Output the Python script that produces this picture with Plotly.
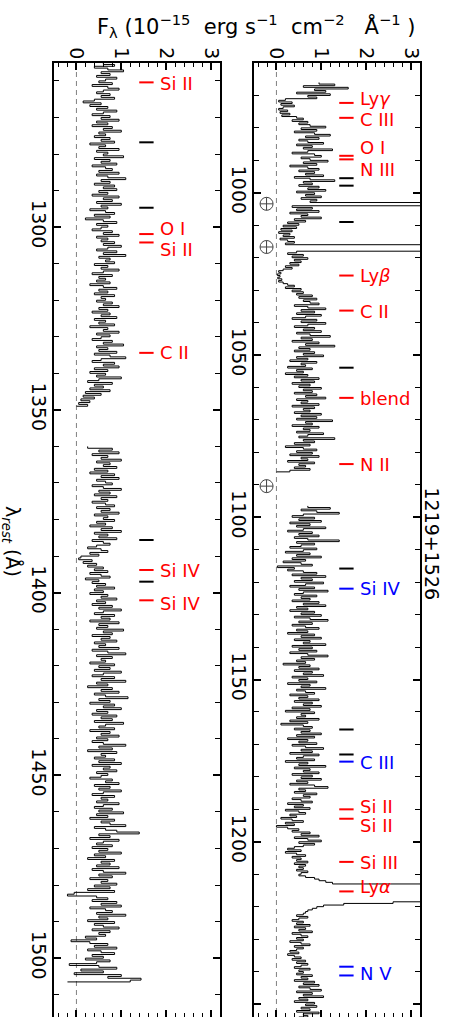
import numpy as np
import plotly.graph_objects as go

# ---------------- data ----------------
# Flux values in units of 0.01 x 10^-15 erg/s/cm^2/A, 0.5 A bins.
# right panel, first segment (starts at 966.0 A)
r1_start = 966.0
flux_r1_c = [
    95, 130, 60, 160, 85, 110, 45, 120, 70, 90,
    20, 5, 35, 10, 40, 15, 5, 25, 8, 30,
    12, 45, 60, 35, 70, 50, 75, 110, 55, 90,
    40, 85, 120, 65, 95, 50, 70, 105, 45, 80,
    60, 125, 70, 35, 85, 100, 55, 75, 115, 60,
    90, 30, 70, 95, 50, 85, 65, 105, 40, 75,
    130, 60, 80, 50, 95, 70, 110, 45, 85, 65,
    100, 55, 90, 75, 600, 600, 35, 80, 45, 95,
    30, 70, 55, 100, 40, 65, 25, 50, 15, 45,
    10, 35, 5, 30, 15, 40, 8, 25, 40, 20,
    600, 600, 600, 600, 45, 25, 60, 35, 70, 40,
    55, 30, 50, 20, 35, 15, 5, 10, 2, 8,
    3, 12, 5, 15, 25, 40, 20, 55, 35, 60,
    45, 80, 50, 90, 60, 75, 95, 40, 70, 110,
    55, 85, 45, 100, 65, 35, 90, 55, 110, 70,
    40, 85, 60, 100, 45, 75, 120, 55, 80, 35,
    95, 65, 130, 50, 75, 40, 85, 60, 105, 45,
    70, 30, 90, 55, 65, 25, 80, 45, 60, 20,
    70, 40, 95, 55, 85, 35, 75, 50, 100, 60,
    80, 40, 90, 65, 110, 45, 70, 55, 95, 35,
    85, 60, 75, 40, 100, 55, 90, 45, 125, 65,
    80, 35, 95, 60, 75, 45, 105, 70, 50, 130,
    60, 85, 40, 75, 20, 60, 90, 45, 80, 30,
    95, 55, 70, 25, 85, 50, 65, 40, 75, 30,
    0]
# right panel, second segment (starts at 1096.5 A)
r2_start = 1096.5
flux_r2_c = [
    70, 120, 55, 90, 140, 60, 35, 85, 50, 100,
    30, 75, 45, 110, 60, 25, 80, 50, 95, 40,
    70, 140, 45, 85, 55, 30, 90, 60, 20, 75,
    45, 100, 35, 65, 15, 55, 80, 2, 40, 25,
    60, 90, 35, 110, 55, 80, 40, 105, 65, 30,
    85, 50, 115, 60, 40, 90, 55, 75, 35, 95,
    60, 110, 45, 70, 30, 85, 55, 100, 40, 75,
    115, 50, 80, 35, 65, 95, 45, 70, 25, 85,
    55, 100, 40, 75, 60, 110, 35, 80, 50, 90,
    30, 70, 115, 55, 85, 45, 65, 15, 75, 50,
    95, 40, 80, 60, 105, 35, 70, 50, 90, 25,
    75, 55, 110, 45, 65, 85, 30, 70, 50, 95,
    40, 80, 60, 100, 35, 75, 20, 85, 55, 65,
    45, 95, 30, 70, 10, 60, 80, 40, 75, 55,
    100, 45, 85, 25, 70, 50, 90, 35, 65, 105,
    55, 80, 30, 95, 60, 45, 85, 20, 70, 50,
    110, 40, 75, 60, 95, 35, 80, 55, 100, 45,
    70, 30, 85, 115, 50, 65, 40, 90, 60, 75,
    35, 55, 80, 25, 60, 40, 75, 20, 50, 65,
    30, 45, 10, 35, 60, 20, 40, 0, 25, 50,
    35, 75, 55, 95, 40, 70, 100, 50, 85, 60,
    40, 25, 55, 20, 45, 65, 35, 55, 45, 70,
    40, 65, 50, 60, 45, 70, 55, 50, 65, 85,
    95, 110, 125, 800, 800, 800, 800, 800, 800, 800,
    800, 800, 800, 800, 260, 150, 105, 90, 80, 70,
    65, 60, 45, 70, 50, 35, 60, 45, 75, 40,
    65, 50, 80, 35, 55, 70, 45, 60, 30, 55,
    75, 40, 60, 45, 30, 50, 25, 40, 55, 35,
    65, 45, 70, 55, 40, 75, 50, 60, 45, 80,
    55, 70, 40, 85, 60, 95, 50, 75, 100, 45,
    80, 60, 105, 50, 70, 40, 85, 65, 90, 55,
    75, 45, 95, 60, 70, 50]
# left panel, first segment (starts at 1255.0 A)
l1_start = 1255.0
flux_l1_c = [
    60, 85, 40, 70, 105, 55, 75, 45, 90, 65,
    50, 80, 35, 70, 95, 60, 45, 75, 55, 85,
    40, 15, 55, 30, 70, 45, 90, 60, 35, 75,
    55, 95, 45, 70, 35, 80, 60, 100, 50, 65,
    40, 75, 55, 85, 30, 65, 50, 95, 45, 70,
    60, 105, 40, 75, 55, 90, 35, 65, 80, 50,
    95, 45, 70, 110, 55, 75, 40, 85, 60, 90,
    50, 70, 35, 95, 60, 80, 45, 100, 55, 70,
    30, 65, 85, 40, 75, 20, 60, 90, 45, 70,
    55, 35, 80, 60, 95, 45, 70, 55, 85, 60,
    100, 70, 45, 90, 60, 110, 50, 75, 65, 85,
    40, 70, 55, 95, 60, 35, 80, 50, 65, 45,
    75, 30, 60, 90, 50, 70, 40, 85, 55, 65,
    45, 80, 60, 95, 50, 70, 35, 75, 55, 90,
    40, 65, 50, 85, 30, 70, 60, 95, 45, 75,
    55, 35, 80, 60, 105, 45, 70, 50, 90, 40,
    75, 110, 55, 35, 85, 60, 95, 40, 70, 30,
    65, 45, 100, 50, 25, 80, 40, 60, 30, 75,
    20, 55, 15, 40, 10, 30, 5, 25,
    0]
# left panel, second segment (starts at 1360.0 A)
l2_start = 1360.0
flux_l2_c = [
    25, 80, 50, 95, 35, 70, 55, 100, 45, 75,
    60, 90, 40, 70, 30, 85, 55, 95, 45, 65,
    80, 35, 60, 100, 50, 75, 40, 90, 55, 70,
    35, 65, 85, 45, 75, 55, 95, 40, 70, 60,
    85, 45, 65, 30, 80, 55, 100, 40, 70, 50,
    90, 35, 60, 75, 45, 25, 55, 70, 30, 50,
    10, 5, 35, 15, 45, 25, 60, 40, 70, 30,
    55, 75, 20, 50, 35, 65, 45, 85, 40, 60,
    30, 70, 55, 90, 45, 65, 35, 80, 50, 100,
    60, 40, 85, 55, 75, 30, 95, 50, 70, 45,
    105, 60, 80, 35, 75, 55, 90, 40, 65, 50,
    95, 35, 70, 110, 45, 80, 55, 65, 30, 85,
    50, 75, 40, 100, 60, 35, 85, 55, 110, 45,
    70, 25, 80, 55, 95, 40, 65, 115, 50, 75,
    30, 85, 60, 100, 45, 70, 35, 90, 55, 80,
    40, 105, 65, 50, 85, 30, 75, 55, 95, 45,
    70, 35, 60, 110, 50, 80, 25, 90, 55, 65,
    40, 85, 50, 100, 35, 75, 60, 90, 45, 70,
    55, 30, 80, 65, 95, 40, 75, 50, 100, 60,
    35, 85, 55, 70, 45, 95, 60, 40, 80, 50,
    105, 45, 70, 30, 85, 55, 75, 110, 40, 65,
    90, 140, 50, 75, 30, 95, 60, 45, 80, 35,
    70, 50, 100, 40, 65, 25, 85, 55, 75, 45,
    95, 35, 60, 110, 50, 80, 30, 70, 55, 90,
    40, 75, 25, 85, -5, -20, 45, 70, 35, 90,
    55, 100, 30, 65, 80, 45, 110, 50, 70, 25,
    85, 40, 60, 95, 35, 75, 50, 65, 20, 45,
    -12, 30, 70, 40, 90, 25, 55, 85, 35, 60,
    20, 75, 45, -16, 50, 90, 10, 60, -5, 100,
    70, 144, 120, -20]
BIN = 0.5

# line identifications
right_marks = [(972.3, 'red'), (976.9, 'red'), (988.6, 'red'), (989.7, 'red'),
               (995.5, 'black'), (997.8, 'black'), (1009.0, 'black'),
               (1025.5, 'red'), (1036.3, 'red'), (1053.9, 'black'), (1063.2, 'red'),
               (1083.6, 'red'), (1115.8, 'black'), (1122.0, 'blue'), (1165.4, 'black'),
               (1173.1, 'black'), (1175.3, 'blue'), (1190.0, 'red'), (1192.9, 'red'),
               (1206.2, 'red'), (1215.3, 'red'), (1238.5, 'blue'), (1241.2, 'blue')]
right_labels = [(970.9, 'Ly<i>γ</i>', 'red'), (977.3, 'C III', 'red'), (986.1, 'O I', 'red'),
                (992.8, 'N III', 'red'), (1025.6, 'Ly<i>β</i>', 'red'), (1036.5, 'C II', 'red'),
                (1063.3, 'blend', 'red'), (1083.7, 'N II', 'red'), (1122.0, 'Si IV', 'blue'),
                (1175.5, 'C III', 'blue'), (1189.0, 'Si II', 'red'), (1195.1, 'Si II', 'red'),
                (1206.3, 'Si III', 'red'), (1213.9, 'Ly<i>α</i>', 'red'), (1240.6, 'N V', 'blue')]
left_marks = [(1260.4, 'red'), (1276.8, 'black'), (1294.7, 'black'), (1301.9, 'red'),
              (1304.2, 'red'), (1334.4, 'red'), (1385.6, 'black'), (1393.8, 'red'),
              (1397.0, 'black'), (1402.1, 'red')]
left_labels = [(1260.6, 'Si II', 'red'), (1300.5, 'O I', 'red'), (1306.0, 'Si II', 'red'),
               (1334.4, 'C II', 'red'), (1393.9, 'Si IV', 'red'), (1402.9, 'Si IV', 'red')]
earth_waves = [1003.4, 1016.7, 1090.4]

RED = '#ff0000'
BLUE = '#0000ff'
cmap = {'red': RED, 'blue': BLUE, 'black': '#000000'}
FONT = 'DejaVu Sans'
FS = 19
LFS = 18


def seg(start, flux_c):
    w = [start + BIN * i for i in range(len(flux_c))]
    f = [v / 100.0 for v in flux_c]
    return w, f


def join(*segs):
    W, F = [], []
    for i, (w, f) in enumerate(segs):
        if i:
            W.append(None)
            F.append(None)
        W += w
        F += f
    return W, F


wr, fr = join(seg(r1_start, flux_r1_c), seg(r2_start, flux_r2_c))
wl, fl = join(seg(l1_start, flux_l1_c), seg(l2_start, flux_l2_c))

fig = go.Figure()

R_RANGE = [1254.0, 960.0]
L_RANGE = [1516.1, 1255.1]

# zero lines
fig.add_trace(go.Scatter(x=[0, 0], y=[1255.1, 1516.1], mode='lines', xaxis='x', yaxis='y',
                         line=dict(color='#808080', width=1, dash='5px,4px'), showlegend=False))
fig.add_trace(go.Scatter(x=[0, 0], y=[960, 1254], mode='lines', xaxis='x2', yaxis='y2',
                         line=dict(color='#808080', width=1, dash='5px,4px'), showlegend=False))

# spectra
fig.add_trace(go.Scatter(x=fl, y=wl, mode='lines', line_shape='vh', xaxis='x', yaxis='y',
                         line=dict(color='black', width=1), showlegend=False, connectgaps=False))
fig.add_trace(go.Scatter(x=fr, y=wr, mode='lines', line_shape='vh', xaxis='x2', yaxis='y2',
                         line=dict(color='black', width=1), showlegend=False, connectgaps=False))


def mark_traces(marks, xa, ya):
    for col in ['black', 'red', 'blue']:
        X, Y = [], []
        for w, c in marks:
            if c == col:
                X += [1.4, 1.72, None]
                Y += [w, w, None]
        if X:
            fig.add_trace(go.Scatter(x=X, y=Y, mode='lines', xaxis=xa, yaxis=ya,
                                     line=dict(color=cmap[col], width=2), showlegend=False))


mark_traces(left_marks, 'x', 'y')
mark_traces(right_marks, 'x2', 'y2')

# earth symbols
fig.add_trace(go.Scatter(x=[-0.22] * len(earth_waves), y=earth_waves, mode='markers',
                         xaxis='x2', yaxis='y2', showlegend=False,
                         marker=dict(symbol='circle-cross-open', size=13, color='#444444',
                                     line=dict(width=1, color='#444444'))))

ann = []
for w, t, c in left_labels:
    ann.append(dict(x=1.82, y=w, xref='x', yref='y', text=t, showarrow=False,
                    xanchor='left', yanchor='middle', font=dict(color=cmap[c], size=LFS, family=FONT)))
for w, t, c in right_labels:
    ann.append(dict(x=1.82, y=w, xref='x2', yref='y2', text=t, showarrow=False,
                    xanchor='left', yanchor='middle', font=dict(color=cmap[c], size=LFS, family=FONT)))

H = 1017.0
T = 63.0
PH = H - T


def py(p):
    return (H - p) / PH


ann.append(dict(x=256 / 451, y=py(26), xref='paper', yref='paper', showarrow=False,
                text='F<sub>λ</sub> (10<sup>−15</sup>&nbsp; erg s<sup>−1</sup>&nbsp; cm<sup>−2</sup>&nbsp;&nbsp; Å<sup>−1</sup>&nbsp;)',
                xanchor='center', yanchor='middle', font=dict(size=21, family=FONT, color='black')))
ann.append(dict(x=12 / 451, y=py(541), xref='paper', yref='paper', showarrow=False,
                text='λ<sub><i>rest</i></sub>&nbsp;(Å)', textangle=90,
                xanchor='center', yanchor='middle', font=dict(size=19, family=FONT, color='black')))
ann.append(dict(x=432 / 451, y=py(543.5), xref='paper', yref='paper', showarrow=False,
                text='1219+1526', textangle=90,
                xanchor='center', yanchor='middle', font=dict(size=FS, family=FONT, color='black')))

xcommon = dict(range=[-0.5, 3.2], side='top', tickvals=[0, 1, 2, 3], ticktext=['0', '1', '2', '3'],
               tickangle=90, ticks='inside', ticklen=7, tickwidth=1.5, tickcolor='black',
               ticklabelstandoff=-5,
               minor=dict(dtick=0.2, tick0=0, ticks='inside', ticklen=4, tickwidth=1, tickcolor='black'),
               showline=True, linewidth=2, linecolor='black', mirror='allticks',
               showgrid=False, zeroline=False, automargin=False,
               tickfont=dict(size=FS, family=FONT, color='black'))
ycommon = dict(dtick=50, tick0=1000, tickangle=90, ticks='inside', ticklen=7, tickwidth=1.5,
               tickcolor='black', ticklabelstandoff=-3,
               minor=dict(dtick=10, tick0=1000, ticks='inside', ticklen=5, tickwidth=1, tickcolor='black'),
               showline=True, linewidth=2, linecolor='black', mirror='allticks',
               showgrid=False, zeroline=False, automargin=False,
               tickfont=dict(size=FS, family=FONT, color='black'))

fig.update_layout(
    template='none',
    width=451, height=1017, autosize=False,
    margin=dict(l=0, r=0, t=63, b=0, pad=0),
    paper_bgcolor='white', plot_bgcolor='white',
    font=dict(family=FONT, size=FS, color='black'),
    showlegend=False,
    xaxis=dict(domain=[54 / 451, 220 / 451], anchor='y', **xcommon),
    yaxis=dict(domain=[0, 1], anchor='x', range=L_RANGE, **ycommon),
    xaxis2=dict(domain=[254 / 451, 420 / 451], anchor='y2', **xcommon),
    yaxis2=dict(domain=[0, 1], anchor='x2', range=R_RANGE, **ycommon),
    annotations=ann,
)

fig.write_html('out.html')
